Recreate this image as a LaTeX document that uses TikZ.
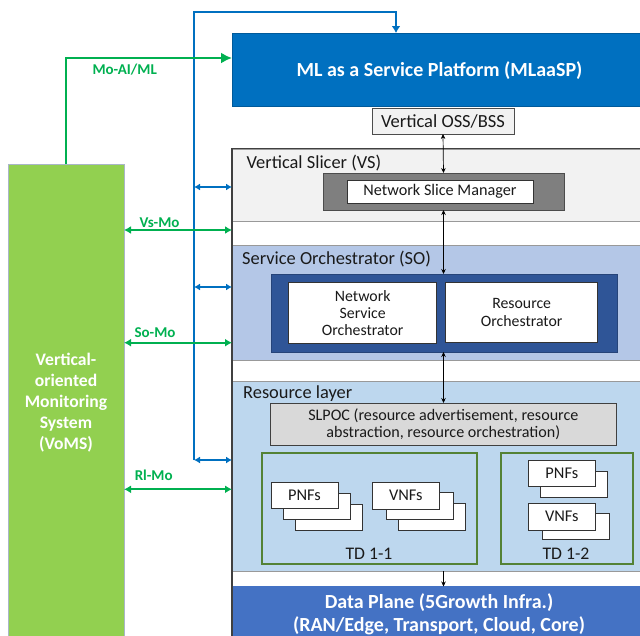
\documentclass[tikz,border=0pt]{standalone}
\usepackage{fontspec}
\setmainfont{Carlito}
\usetikzlibrary{arrows.meta}
\definecolor{mlblue}{HTML}{0070C0}
\definecolor{vsfill}{HTML}{F2F2F2}
\definecolor{sofill}{HTML}{B4C7E7}
\definecolor{rlfill}{HTML}{BDD7EE}
\definecolor{dpfill}{HTML}{4472C4}
\definecolor{soinner}{HTML}{2F5597}
\definecolor{nsmgray}{HTML}{7F7F7F}
\definecolor{slpocfill}{HTML}{D9D9D9}
\definecolor{tdgreen}{HTML}{548235}
\definecolor{vomsgreen}{HTML}{92D050}
\definecolor{linkgreen}{HTML}{00B050}
\definecolor{bordergray}{HTML}{8497B0}
\definecolor{txt}{HTML}{1A1A1A}
\tikzset{
  rbox/.style={draw=#1, anchor=north west, inner sep=0pt, outer sep=0pt},
  region/.style={rbox=gray!80, line width=0.8pt, fill=#1},
  whitebox/.style={rbox=black!80, fill=white, line width=0.8pt, text=txt},
  nfbox/.style={rbox=black!80, fill=white, line width=0.7pt, minimum width=67pt, minimum height=26.5pt, font=\fontsize{16.4}{16.4}\selectfont, text=txt},
  tdbox/.style={rbox=tdgreen, line width=1.6pt, minimum height=111pt},
  lbl/.style={anchor=west, inner sep=0pt, text=txt, font=\fontsize{18.4}{18.4}\selectfont},
  tdlbl/.style={text=txt, font=\fontsize{17.7}{17.7}\selectfont, inner sep=0pt},
  blk/.style={line width=0.7pt, {Stealth[length=5pt,width=4.5pt]}-{Stealth[length=5pt,width=4.5pt]}},
  blkone/.style={line width=0.7pt, -{Stealth[length=5pt,width=4.5pt]}},
  bl/.style={draw=mlblue, line width=2pt},
  blarr/.style={draw=mlblue, line width=2pt, {Latex[length=6pt,width=7pt]}-{Latex[length=6pt,width=7pt]}},
  gr/.style={draw=linkgreen, line width=2pt},
  grarr/.style={draw=linkgreen, line width=2pt, {Latex[length=7pt,width=8pt]}-{Latex[length=7pt,width=8pt]}},
  glbl/.style={text=linkgreen, font=\bfseries\fontsize{15}{15}\selectfont, inner sep=0pt},
}
\begin{document}
\begin{tikzpicture}[x=1pt,y=-1pt]
\useasboundingbox (0,0) rectangle (640,635);
\clip (0,0) rectangle (640,635);
% main frame
\node[rbox=black!75, line width=1.5pt, fill=white, minimum width=430pt, minimum height=500pt] (frame) at (232,149) {};
\node[region=vsfill, minimum width=430pt, minimum height=72pt] (vs) at (232,149) {};
\node[region=sofill, minimum width=430pt, minimum height=115pt] (so) at (232,245.5) {};
\node[region=rlfill, minimum width=430pt, minimum height=190pt] (rl) at (232,381) {};
\node[region=dpfill, draw=dpfill, minimum width=430pt, minimum height=60pt] (dp) at (232,586.5) {};
\draw[black!75, line width=1.5pt] (frame.north west) -- (frame.south west);
% MLaaSP
\node[rbox=mlblue!80!black, fill=mlblue, line width=0.8pt, minimum width=430pt, minimum height=73pt] (ml) at (232,33) {};
\node[text=white, font=\bfseries\fontsize{20}{20}\selectfont, inner sep=0pt] (mltxt) at (439.5,71) {ML as a Service Platform (MLaaSP)};
% OSS/BSS
\node[rbox=black!70, fill=vsfill, line width=0.8pt, minimum width=142pt, minimum height=26pt, text=txt, font=\fontsize{18.5}{18.5}\selectfont] (oss) at (372,108) {Vertical OSS/BSS};
% region labels
\node[lbl] (vslbl) at (246.5,163) {Vertical Slicer (VS)};
\node[lbl] (solbl) at (242,259.5) {Service Orchestrator (SO)};
\node[lbl] (rllbl) at (243,393.5) {Resource layer};
% NSM
\node[rbox=black!70, fill=nsmgray, line width=0.8pt, minimum width=241pt, minimum height=37pt] (nsmout) at (323,173) {};
\node[whitebox, minimum width=186pt, minimum height=23pt, font=\fontsize{16.2}{16.2}\selectfont] (nsm) at (347,180) {Network Slice Manager};
% SO inner
\node[rbox=soinner!80!black, fill=soinner, line width=0.8pt, minimum width=346pt, minimum height=78pt] (soin) at (271,274) {};
\node[whitebox, minimum width=148pt, minimum height=60.5pt, align=center, font=\fontsize{15.8}{17}\selectfont] (nso) at (288.7,282.7) {Network\\Service\\Orchestrator};
\node[whitebox, minimum width=152pt, minimum height=59.5pt, align=center, font=\fontsize{15.8}{18}\selectfont] (ro) at (445.7,282.7) {Resource\\Orchestrator};
% SLPOC
\node[rbox=black!75, fill=slpocfill, line width=0.8pt, minimum width=346.7pt, minimum height=42.7pt, align=center, text=txt, font=\fontsize{16.1}{17.6}\selectfont] (slpoc) at (270,403) {SLPOC (resource advertisement, resource\\abstraction, resource orchestration)};
% TDs
\node[tdbox, minimum width=214.7pt] (td11) at (262,453) {};
\node[tdbox, minimum width=131.7pt] (td12) at (501,453) {};
\node[tdlbl] (td11lbl) at (369,553.5) {TD 1-1};
\node[tdlbl] (td12lbl) at (566,553.5) {TD 1-2};
% NF stacks TD 1-1
\node[nfbox] (p3) at (295.5,504) {};
\node[nfbox] (p2) at (283.5,493) {};
\node[nfbox] (p1) at (271,482) {PNFs};
\node[nfbox] (v3) at (398.3,503.5) {};
\node[nfbox] (v2) at (386,492.5) {};
\node[nfbox] (v1) at (372.3,482.5) {VNFs};
% TD 1-2
\node[nfbox] (q2) at (540,471) {};
\node[nfbox] (q1) at (528.3,460) {PNFs};
\node[nfbox] (w2) at (542,513) {};
\node[nfbox] (w1) at (528.3,503.5) {VNFs};
% Data plane text
\node[text=white, font=\bfseries\fontsize{20}{23}\selectfont, align=center, inner sep=0pt] (dptxt) at (439,614) {Data Plane (5Growth Infra.)\\(RAN/Edge, Transport, Cloud, Core)};
% black arrows
\draw[blk] (oss.south) -- (nsmout.north);
\draw[blk] (nsmout.south) -- (nsmout.south |- soin.north);
\draw[blk] (nsmout.south |- soin.south) -- (nsmout.south |- slpoc.north);
\draw[blkone] (nsmout.south |- rl.south) -- (nsmout.south |- dp.north);
% VoMS
\node[rbox=bordergray!70, fill=vomsgreen, line width=0.8pt, minimum width=116pt, minimum height=480pt] (voms) at (8,164) {};
\node[text=white, font=\bfseries\fontsize{17.6}{21}\selectfont, align=center, inner sep=0pt] (vomstxt) at (66,402.5) {Vertical-\\oriented\\Monitoring\\System\\(VoMS)};
% blue connectors
\coordinate (bb) at (194,460);
\coordinate (bt) at (396,12);
\coordinate (ba1) at (194,187);
\coordinate (ba2) at (194,287);
\draw[bl, -{Latex[length=7pt,width=9pt]}] (bb) -- (bb |- bt) -- (bt) -- (bt |- ml.north);
\draw[blarr] (ba1) -- (ba1 -| frame.west);
\draw[blarr] (ba2) -- (ba2 -| frame.west);
\draw[blarr] (bb) -- (bb -| frame.west);
% green connectors
\coordinate (g0) at (232,58);
\coordinate (gv) at (124,230);
\coordinate (gs) at (124,342.7);
\coordinate (gr) at (124,489.3);
\draw[gr, -{Latex[length=11pt,width=11pt]}] (voms.north) |- (g0);
\draw[grarr] (gv) -- (gv -| frame.west);
\draw[grarr] (gs) -- (gs -| frame.west);
\draw[grarr] (gr) -- (gr -| frame.west);
\node[glbl] (lmo) at (124.7,70) {Mo-AI/ML};
\node[glbl] (lvs) at (159.5,223) {Vs-Mo};
\node[glbl] (lso) at (155,332.7) {So-Mo};
\node[glbl] (lrl) at (153.7,475.7) {Rl-Mo};
\end{tikzpicture}
\end{document}
